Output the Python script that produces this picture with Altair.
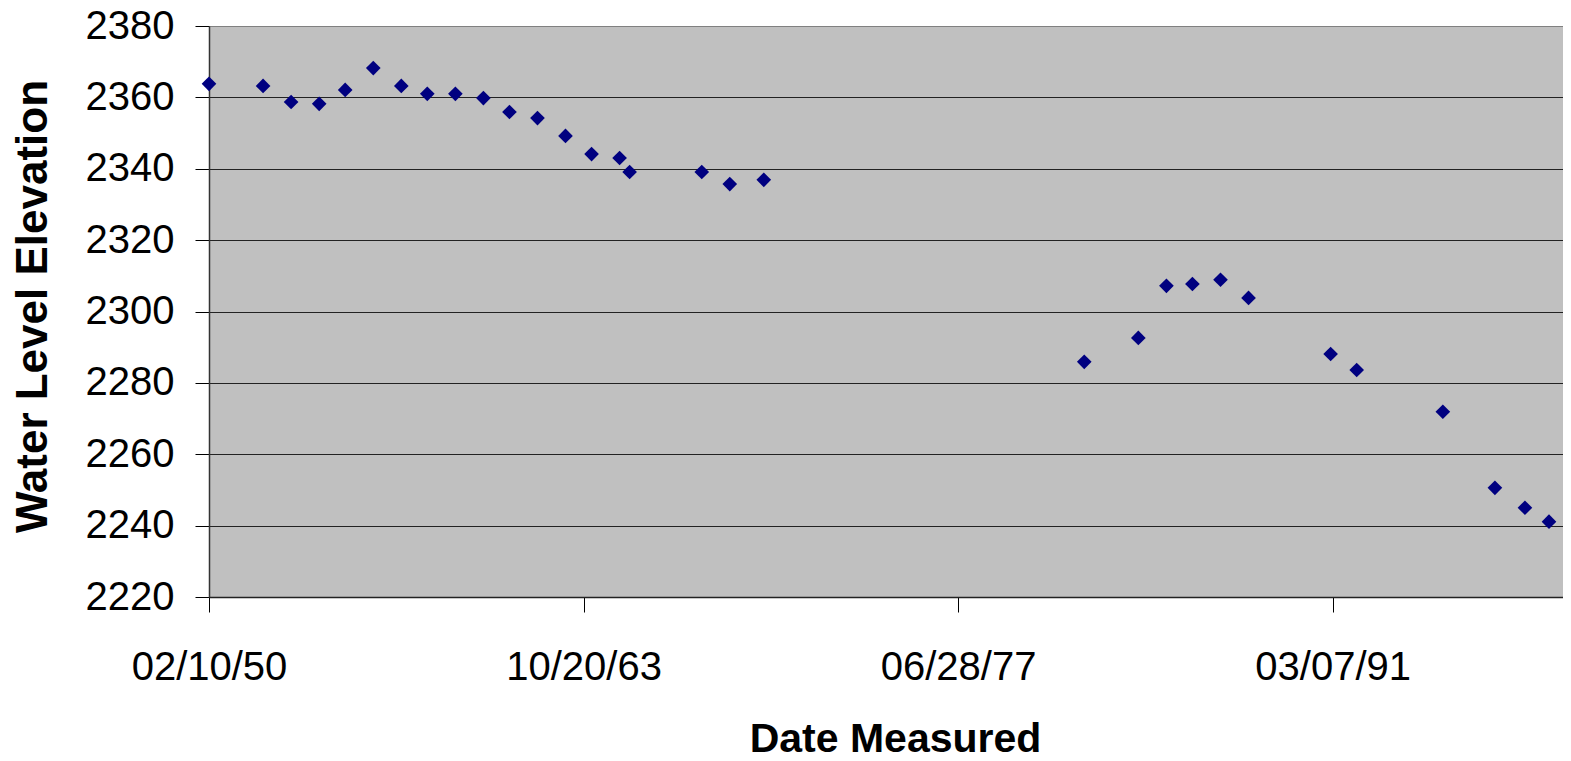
import altair as alt
import pandas as pd

dates = [
    "1950-02-10", "1952-02-02", "1953-02-10", "1954-02-20", "1955-02-02",
    "1956-02-12", "1957-02-20", "1958-02-02", "1959-02-12", "1960-02-21",
    "1961-02-03", "1962-02-12", "1963-02-21", "1964-02-04", "1965-02-12",
    "1965-06-26", "1968-02-14", "1969-02-22", "1970-05-22", "1982-02-06",
    "1984-01-29", "1985-02-07", "1986-01-20", "1987-01-30", "1988-02-08",
    "1991-02-08", "1992-01-22", "1995-03-17", "1997-02-09", "1998-03-17",
    "1999-02-01", "2000-01-29",
]
levels = [
    2363.8, 2363.2, 2358.7, 2358.2, 2362.1,
    2368.2, 2363.2, 2361.0, 2361.0, 2359.8,
    2355.9, 2354.2, 2349.2, 2344.1, 2343.0,
    2339.1, 2339.1, 2335.7, 2336.9, 2285.9,
    2292.6, 2307.2, 2307.7, 2308.9, 2303.8,
    2288.1, 2283.6, 2271.9, 2250.6, 2245.0,
    2241.1, 2237.7,
]
x_ticks = [(1950, 2, 10), (1963, 10, 20), (1977, 6, 28), (1991, 3, 7)]
y_ticks = [2220, 2240, 2260, 2280, 2300, 2320, 2340, 2360, 2380]

df = pd.DataFrame({"date": dates, "level": levels})

FONT = "Liberation Sans"

chart = alt.Chart(df).mark_point(
    shape="diamond", filled=True, color="#000080", size=215, opacity=1
).encode(
    x=alt.X(
        "date:T",
        scale=alt.Scale(
            type="utc",
            domain=[alt.DateTime(year=1950, month=2, date=10, utc=True),
                    alt.DateTime(year=1999, month=8, date=7, utc=True)],
            nice=False,
        ),
        axis=alt.Axis(
            title="Date Measured",
            values=[alt.DateTime(year=y, month=m, date=d, utc=True) for y, m, d in x_ticks],
            labelExpr="utcFormat(datum.value, '%m/%d/%y')",
            grid=False,
            labelFont=FONT, labelFontSize=40, labelColor="black",
            labelPadding=35, labelFlush=False,
            tickSize=15, tickColor="black", tickWidth=1,
            domainColor="#222", domainWidth=1.5,
            titleFont=FONT, titleFontSize=41, titleFontWeight="bold", titleColor="black",
            titleX=686, titleY=154, titleBaseline="alphabetic", titleAlign="center",
        ),
    ),
    y=alt.Y(
        "level:Q",
        scale=alt.Scale(domain=[2220, 2380], nice=False, zero=False),
        axis=alt.Axis(
            title="Water Level Elevation",
            values=y_ticks,
            format="d",
            grid=True,
            gridColor=alt.condition("datum.value == 2380", alt.value("#808080"), alt.value("#222")),
            gridWidth=1,
            labelFont=FONT, labelFontSize=40, labelColor="black",
            labelPadding=21,
            tickSize=14, tickColor="black", tickWidth=1,
            domainColor="#333", domainWidth=1.5,
            titleFont=FONT, titleFontSize=44, titleFontWeight="bold", titleColor="black",
            titleAngle=-90, titleX=-176, titleY=280, titleBaseline="middle", titleAlign="center",
        ),
    ),
).properties(
    width=1354,
    height=571,
    autosize=alt.AutoSizeParams(type="none"),
    padding={"left": 201, "top": 18, "right": 0, "bottom": 155},
    background="white",
).configure_view(
    fill="#C0C0C0", stroke="#808080", strokeWidth=1
)

chart.save("out.html", embed_options={"renderer": "svg", "actions": False})
